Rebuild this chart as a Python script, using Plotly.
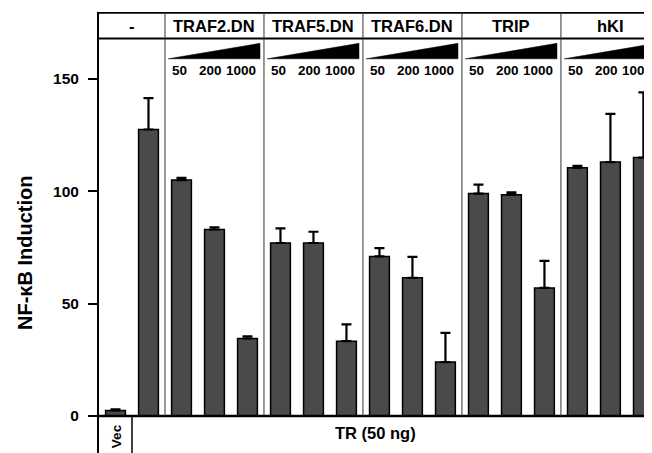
import plotly.graph_objects as go

# ---- data ----
groups = ["-", "TRAF2.DN", "TRAF5.DN", "TRAF6.DN", "TRIP", "hKI"]
doses = ["50", "200", "1000"]
bar_labels = ["Vec", "TR"] + [f"{g} {d}" for g in groups[1:] for d in doses]
values = [2.5, 127.5, 105, 83, 34.5, 77, 77, 33.3, 71, 61.5, 24, 99, 98.5, 57, 110.5, 113, 115]
errors = [0.5, 14, 1, 1, 1, 6.5, 5, 7.5, 3.7, 9.3, 13, 4, 1, 12, 0.8, 21.5, 29]
y_ticks = [0, 50, 100, 150]
y_title = "NF-κB Induction"
bottom_label = "TR (50 ng)"
vec_label = "Vec"

FONT = "Liberation Sans, Arial, Helvetica, sans-serif"
xs = list(range(len(values)))

# axis geometry (page has an 8px body margin, compensated in the layout margins)
Y_MIN, Y_MAX = -16.47, 179.8
X_MIN, X_MAX = -0.5, 16.26

def py(px):
    # screen pixel row -> data y (0 at px 416, 2.247 px per unit)
    return (416 - px) / 2.247

fig = go.Figure()
fig.add_trace(go.Bar(
    x=xs, y=values, width=0.6,
    marker=dict(color="#4a4a4a", line=dict(color="black", width=1.5)),
    error_y=dict(type="data", symmetric=False, array=errors,
                 arrayminus=[0] * len(errors), color="black",
                 thickness=2.2, width=5),
    hovertext=bar_labels,
    showlegend=False,
))

shapes = []
# x axis baseline
shapes.append(dict(type="line", xref="x", yref="y", x0=X_MIN, x1=X_MAX, y0=0, y1=0,
                   line=dict(color="black", width=2.5)))
# top border and header divider
shapes.append(dict(type="line", xref="x", yref="y", x0=X_MIN, x1=X_MAX,
                   y0=py(12.8), y1=py(12.8), line=dict(color="black", width=1.8)))
shapes.append(dict(type="line", xref="x", yref="y", x0=X_MIN, x1=X_MAX,
                   y0=py(38.5), y1=py(38.5), line=dict(color="black", width=2.2)))
# panel dividers
panel_edges = [1.5 + 3 * i for i in range(5)]
for xe in panel_edges:
    shapes.append(dict(type="line", xref="x", yref="y", x0=xe, x1=xe, y0=0, y1=Y_MAX,
                       line=dict(color="#333333", width=1)))
# Vec box right edge
shapes.append(dict(type="line", xref="x", yref="y", x0=0.5, x1=0.5, y0=Y_MIN, y1=0,
                   line=dict(color="black", width=1.5)))
# dose wedges
yb, yt = py(58.8), py(43.3)
for p0 in panel_edges:
    xl, xr = p0 + 0.1, p0 + 3 - 0.12
    shapes.append(dict(type="path", xref="x", yref="y",
                       path=f"M {xl},{yb} L {xr},{yb} L {xr},{yt} Z",
                       fillcolor="black", line=dict(color="black", width=0.5)))

annotations = []
# header labels
centers = [0.5] + [3 + 3 * i for i in range(5)]
for g, c in zip(groups, centers):
    annotations.append(dict(x=c, y=py(26), xref="x", yref="y", text=g, showarrow=False,
                            font=dict(family=FONT, size=16.5, color="black", weight="bold")))
# dose labels
offsets = [-0.05, -0.12, -0.2]
for i in range(5):
    for j, d in enumerate(doses):
        annotations.append(dict(x=2 + 3 * i + j + offsets[j], y=py(70.5), xref="x", yref="y",
                                text=d, showarrow=False,
                                font=dict(family=FONT, size=13.5, color="black", weight="bold")))
# bottom labels
annotations.append(dict(x=0.05, y=py(436), xref="x", yref="y", text=vec_label, textangle=-90,
                        showarrow=False,
                        font=dict(family=FONT, size=13.5, color="black", weight="bold")))
annotations.append(dict(x=(376 - 116) / 33, y=py(433), xref="x", yref="y", text=bottom_label,
                        showarrow=False,
                        font=dict(family=FONT, size=16.5, color="black", weight="bold")))
# y title
annotations.append(dict(x=-(99 - 25) / 553, y=py(253), xref="paper", yref="y", text=y_title,
                        textangle=-90, showarrow=False, xanchor="center", yanchor="middle",
                        font=dict(family=FONT, size=20, color="black", weight="bold")))

fig.update_layout(
    width=644, height=445,
    margin=dict(l=91, r=0, t=4, b=0, pad=0),
    paper_bgcolor="white", plot_bgcolor="white",
    shapes=shapes, annotations=annotations,
    xaxis=dict(range=[X_MIN, X_MAX], showticklabels=False, ticks="", showgrid=False,
               zeroline=False, showline=False, fixedrange=True),
    yaxis=dict(range=[Y_MIN, Y_MAX], tickvals=y_ticks, ticks="outside", ticklen=9,
               tickwidth=2, tickcolor="black", showline=True, linewidth=2,
               linecolor="black", showgrid=False, zeroline=False,
               ticklabelstandoff=6,
               tickfont=dict(family=FONT, size=15.5, color="black", weight="bold")),
    font=dict(family=FONT, color="black"),
)

fig.write_html("out.html")
